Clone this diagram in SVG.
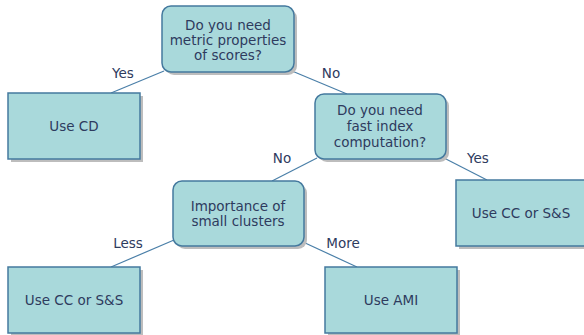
<svg xmlns="http://www.w3.org/2000/svg" width="584" height="335" viewBox="0 0 584 335">
<defs>
<style>
.box{fill:#A9D9DB;stroke:#44799E;stroke-width:1.5}
.sh{fill:#BDBDBD}
.t{font-family:"DejaVu Sans",Verdana,sans-serif;font-size:13.5px;fill:#2E3B5E;text-anchor:middle}
.c{stroke:#4A7FA8;stroke-width:1.2;fill:none}
</style>
</defs>
<rect width="584" height="335" fill="#fff"/>
<g id="connectors">
<line class="c" x1="164" y1="71" x2="111" y2="93"/>
<line class="c" x1="292" y1="71" x2="347" y2="94"/>
<line class="c" x1="317" y1="158" x2="272" y2="181"/>
<line class="c" x1="444" y1="158" x2="487" y2="180"/>
<line class="c" x1="174" y1="240" x2="111" y2="267"/>
<line class="c" x1="303" y1="242" x2="357" y2="267"/>
<text class="t" x="123" y="78">Yes</text>
<text class="t" x="331" y="78">No</text>
<text class="t" x="282" y="163">No</text>
<text class="t" x="478" y="163">Yes</text>
<text class="t" x="128" y="248">Less</text>
<text class="t" x="343" y="248">More</text>
</g>
<g id="q1">
<rect class="sh" x="165" y="9" width="132" height="66" rx="9"/>
<rect class="box" x="162" y="6" width="132" height="66" rx="9"/>
<text class="t" x="228" y="30">Do you need</text>
<text class="t" x="228" y="45">metric properties</text>
<text class="t" x="228" y="60">of scores?</text>
</g>
<g id="useCD">
<rect class="sh" x="11" y="96" width="132" height="66"/>
<rect class="box" x="8" y="93" width="132" height="66"/>
<text class="t" x="74" y="131">Use CD</text>
</g>
<g id="q2">
<rect class="sh" x="318" y="97" width="131" height="65" rx="9"/>
<rect class="box" x="315" y="94" width="131" height="65" rx="9"/>
<text class="t" x="380" y="115">Do you need</text>
<text class="t" x="380" y="131">fast index</text>
<text class="t" x="380" y="147">computation?</text>
</g>
<g id="useCC1">
<rect class="sh" x="459" y="183" width="132" height="66"/>
<rect class="box" x="456" y="180" width="132" height="66"/>
<text class="t" x="521" y="218">Use CC or S&amp;S</text>
</g>
<g id="q3">
<rect class="sh" x="176" y="184" width="131" height="65" rx="9"/>
<rect class="box" x="173" y="181" width="131" height="65" rx="9"/>
<text class="t" x="238" y="211">Importance of</text>
<text class="t" x="238" y="226">small clusters</text>
</g>
<g id="useCC2">
<rect class="sh" x="11" y="270" width="132" height="66"/>
<rect class="box" x="8" y="267" width="132" height="66"/>
<text class="t" x="74" y="305">Use CC or S&amp;S</text>
</g>
<g id="useAMI">
<rect class="sh" x="328" y="270" width="132" height="66"/>
<rect class="box" x="325" y="267" width="132" height="66"/>
<text class="t" x="391" y="305">Use AMI</text>
</g>
</svg>
